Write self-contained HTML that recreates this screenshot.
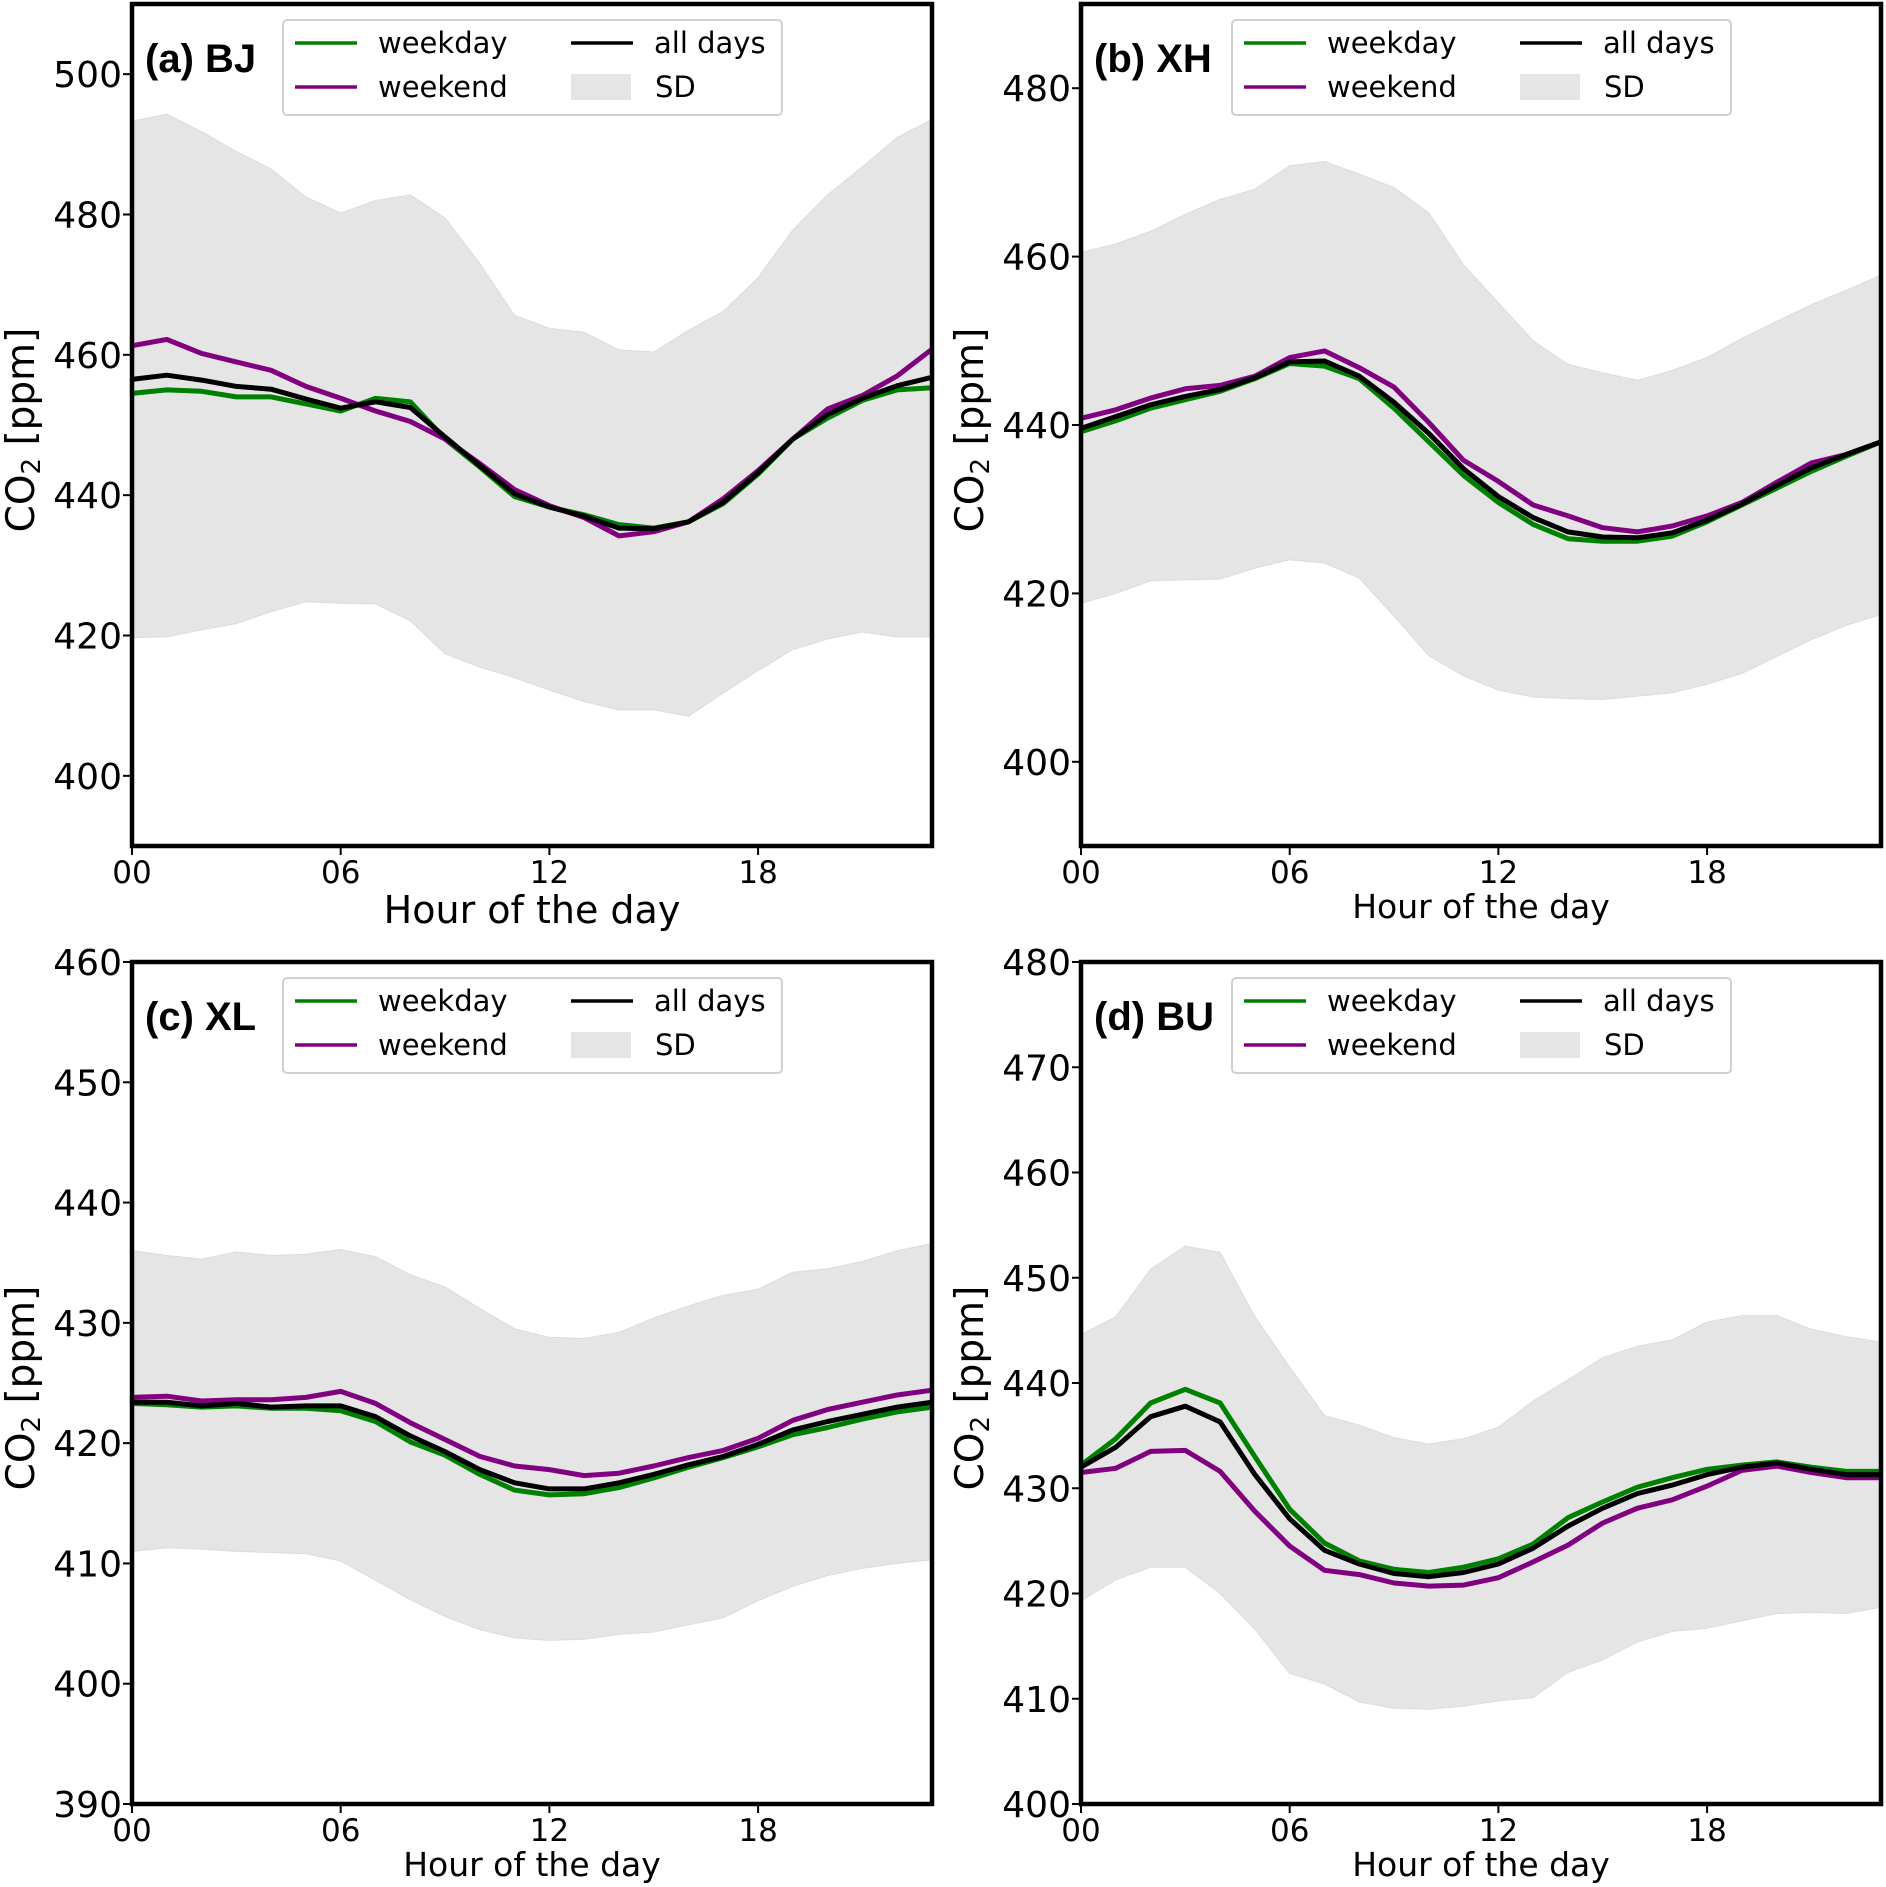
<!DOCTYPE html>
<html><head><meta charset="utf-8"><style>
html,body{margin:0;padding:0;background:#fff;}
svg{display:block;font-family:"DejaVu Sans","Liberation Sans",sans-serif;}
</style></head><body>
<svg id="fig" width="1886" height="1887" viewBox="0 0 1886 1887" xmlns="http://www.w3.org/2000/svg"></svg>
<script>
const hours = [0,1,2,3,4,5,6,7,8,9,10,11,12,13,14,15,16,17,18,19,20,21,22,23];
const xTickLabels = ["00","06","12","18"];
const xTickValues = [0,6,12,18];

const bjWeekday = [454.5,455,454.8,454,454,453,452,453.8,453.3,448,444,439.8,438.3,437.2,435.8,435.3,436.2,438.8,443,448,451,453.5,455,455.3];
const bjWeekend = [461.3,462.2,460.2,459,457.8,455.5,453.8,452,450.5,448,444.5,440.8,438.5,436.8,434.2,434.8,436.2,439.5,443.5,448,452.3,454.2,457,460.8];
const bjAll = [456.5,457.1,456.4,455.5,455.1,453.7,452.4,453.3,452.5,448.3,444.2,440.2,438.3,437,435.3,435.2,436.2,439,443.2,448,451.5,453.8,455.6,456.8];
const bjSdUpper = [493.3,494.3,491.8,489,486.5,482.5,480.2,482,482.8,479.5,473,465.6,463.8,463.2,460.7,460.4,463.5,466.2,471,477.8,482.8,486.8,491,493.5];
const bjSdLower = [419.7,419.8,420.8,421.7,423.4,424.8,424.6,424.5,422.1,417.4,415.5,414,412.2,410.6,409.4,409.4,408.5,411.8,415,418,419.5,420.5,419.8,419.8];
const bjYTicks = [400,420,440,460,480,500];

const xhWeekday = [439.2,440.5,442,443,444,445.5,447.3,447,445.5,442,438,434,430.8,428.2,426.5,426.2,426.2,426.8,428.5,430.5,432.5,434.5,436.3,438];
const xhWeekend = [440.8,441.8,443.2,444.3,444.7,445.8,448,448.8,446.8,444.5,440.3,435.8,433.3,430.5,429.2,427.8,427.3,428,429.2,430.8,433.2,435.5,436.5,438];
const xhAll = [439.6,441,442.4,443.4,444.2,445.6,447.5,447.6,445.8,442.7,439,434.8,431.5,429,427.3,426.7,426.6,427.2,428.7,430.6,432.8,434.9,436.5,438];
const xhSdUpper = [460.5,461.5,463,465,466.8,468,470.8,471.3,469.8,468.2,465.2,459,454.5,450,447.2,446.2,445.3,446.5,448,450.3,452.3,454.3,456,457.8];
const xhSdLower = [418.8,420,421.5,421.6,421.7,423,424,423.6,421.8,417.3,412.6,410.2,408.5,407.7,407.5,407.4,407.8,408.2,409.2,410.5,412.5,414.5,416.2,417.5];
const xhYTicks = [400,420,440,460,480];

const xlWeekday = [423.3,423.2,423,423.1,422.9,422.9,422.7,421.8,420.1,419,417.4,416.1,415.7,415.8,416.3,417.1,418,418.8,419.7,420.7,421.3,422,422.6,423];
const xlWeekend = [423.8,423.9,423.5,423.6,423.6,423.8,424.3,423.3,421.7,420.3,418.9,418.1,417.8,417.3,417.5,418.1,418.8,419.4,420.4,421.9,422.8,423.4,424,424.4];
const xlAll = [423.4,423.4,423.1,423.3,423,423.1,423.1,422.2,420.6,419.3,417.8,416.7,416.2,416.2,416.7,417.4,418.2,418.9,419.9,421.1,421.8,422.4,423,423.4];
const xlSdUpper = [436,435.6,435.3,435.9,435.6,435.7,436.1,435.5,434,433,431.2,429.5,428.8,428.7,429.2,430.4,431.4,432.3,432.8,434.2,434.5,435.1,436,436.6];
const xlSdLower = [411,411.3,411.2,411,410.9,410.8,410.2,408.6,407,405.6,404.5,403.8,403.6,403.7,404.1,404.3,404.9,405.5,406.9,408.1,409,409.6,410,410.3];
const xlYTicks = [390,400,410,420,430,440,450,460];

const buWeekday = [432.2,434.7,438.1,439.4,438.1,433,428,424.8,423.1,422.3,422,422.5,423.3,424.7,427.2,428.7,430.1,431,431.8,432.2,432.5,432,431.6,431.6];
const buWeekend = [431.5,431.9,433.5,433.6,431.6,427.8,424.5,422.2,421.8,421,420.7,420.8,421.5,423,424.6,426.7,428.1,428.9,430.2,431.7,432.1,431.5,431,431];
const buAll = [432,433.9,436.8,437.8,436.3,431.3,427.1,424.1,422.8,421.9,421.6,422,422.8,424.3,426.4,428.1,429.5,430.3,431.3,432,432.4,431.8,431.3,431.3];
const buSdUpper = [444.6,446.3,450.8,453,452.4,446.3,441.5,436.9,436,434.8,434.2,434.7,435.8,438.3,440.3,442.4,443.5,444.1,445.8,446.4,446.4,445.1,444.4,443.9];
const buSdLower = [419.3,421.3,422.5,422.5,420,416.6,412.4,411.4,409.7,409.1,409,409.3,409.8,410.1,412.5,413.7,415.4,416.4,416.7,417.4,418.1,418.2,418.1,418.7];
const buYTicks = [400,410,420,430,440,450,460,470,480];

const NS = "http://www.w3.org/2000/svg";
const svg = document.getElementById('fig');
function mk(tag, attrs, parent){
  const e = document.createElementNS(NS, tag);
  for (const k in attrs) e.setAttribute(k, attrs[k]);
  (parent||svg).appendChild(e);
  return e;
}

const panels = [
  {key:'bj', label:'(a) BJ', ox:0, oy:0, ymin:390, ymax:510, wd:bjWeekday, we:bjWeekend, all:bjAll, up:bjSdUpper, lo:bjSdLower, ticks:bjYTicks, xlabSize:38},
  {key:'xh', label:'(b) XH', ox:949, oy:0, ymin:390, ymax:490, wd:xhWeekday, we:xhWeekend, all:xhAll, up:xhSdUpper, lo:xhSdLower, ticks:xhYTicks, xlabSize:33},
  {key:'xl', label:'(c) XL', ox:0, oy:958, ymin:390, ymax:460, wd:xlWeekday, we:xlWeekend, all:xlAll, up:xlSdUpper, lo:xlSdLower, ticks:xlYTicks, xlabSize:33},
  {key:'bu', label:'(d) BU', ox:949, oy:958, ymin:400, ymax:480, wd:buWeekday, we:buWeekend, all:buAll, up:buSdUpper, lo:buSdLower, ticks:buYTicks, xlabSize:33}
];

panels.forEach(p=>{
  const L = 132 + p.ox, R = 932 + p.ox, T = 4 + p.oy, B = 846 + p.oy;
  const xs = h => L + (h - 0) / 23 * (R - L);
  const ys = v => B - (v - p.ymin) / (p.ymax - p.ymin) * (B - T);
  const g = mk('g', {});
  
  

  let d = '';
  hours.forEach((h,i)=>{ d += (i?'L':'M') + xs(h).toFixed(1) + ',' + ys(p.up[i]).toFixed(1); });
  for (let i = hours.length-1; i>=0; i--) d += 'L' + xs(hours[i]).toFixed(1) + ',' + ys(p.lo[i]).toFixed(1);
  const band = mk('path', {d: d+'Z', fill:'#e5e5e5', stroke:'#dcdcdc', 'stroke-width':1}, g);
  
  

  const series = [[p.wd,'#008000','weekday-line'],[p.we,'#800080','weekend-line'],[p.all,'#000000','all-days-line']];
  series.forEach(s=>{
    const pts = hours.map((h,i)=> xs(h).toFixed(1)+','+ys(s[0][i]).toFixed(1)).join(' ');
    const pl = mk('polyline', {points:pts, fill:'none', stroke:s[1], 'stroke-width':5, 'stroke-linejoin':'round'}, g);
    
    
  });

  const fr = mk('rect', {x:L, y:T, width:R-L, height:B-T, fill:'none', stroke:'#000', 'stroke-width':4.5}, g);
  
  

  p.ticks.forEach(v=>{
    const y = ys(v);
    mk('line', {x1:L-9, x2:L, y1:y, y2:y, stroke:'#000', 'stroke-width':2}, g);
    const t = mk('text', {x:L-10, y:y+13, 'text-anchor':'end', 'font-size':36, fill:'#000'}, g);
    t.textContent = v;
    
    
  });
  xTickValues.forEach((v,i)=>{
    const x = xs(v);
    mk('line', {x1:x, x2:x, y1:B, y2:B+9, stroke:'#000', 'stroke-width':2}, g);
    const t = mk('text', {x:x, y:B+37, 'text-anchor':'middle', 'font-size':31, fill:'#000'}, g);
    t.textContent = xTickLabels[i];
    
    
  });
  const xl = mk('text', {x:(L+R)/2, y:B + (p.xlabSize>35?77:72), 'text-anchor':'middle', 'font-size':p.xlabSize, fill:'#000'}, g);
  xl.textContent = 'Hour of the day';
  
  
  const cy = (T+B)/2 + 5, cx = p.ox + 34;
  const yl = mk('text', {x:cx, y:cy, transform:'rotate(-90 '+cx+' '+cy+')', 'text-anchor':'middle', 'font-size':39, fill:'#000'}, g);
  
  
  yl.appendChild(document.createTextNode('CO'));
  const sub = mk('tspan', {'font-size':26, dy:6}, yl); sub.textContent = '2';
  const rest = mk('tspan', {dy:-6}, yl); rest.textContent = ' [ppm]';

  const pl = mk('text', {x:L+13, y:T+68, 'font-size':40, 'font-weight':'bold', fill:'#000', 'font-family':'Liberation Sans, sans-serif'}, g);
  pl.textContent = p.label;
  
  

  const lx = 283 + p.ox, ly = 20 + p.oy;
  const lg = mk('g', {}, g);
  
  
  mk('rect', {x:lx, y:ly, width:499, height:95, rx:4, fill:'#fff', 'fill-opacity':0.85, stroke:'#d0d0d0', 'stroke-width':2}, lg);
  const items = [
    ['weekday', '#008000', lx+12, ly+23, 'line'],
    ['weekend', '#800080', lx+12, ly+67, 'line'],
    ['all days', '#000', lx+288, ly+23, 'line'],
    ['SD', '#e5e5e5', lx+288, ly+67, 'patch']
  ];
  items.forEach(it=>{
    const e = mk('g', {}, lg);
    
    
    if (it[4]==='line') mk('line', {x1:it[2], x2:it[2]+62, y1:it[3], y2:it[3], stroke:it[1], 'stroke-width':3.5}, e);
    else mk('rect', {x:it[2], y:it[3]-13, width:60, height:26, fill:it[1]}, e);
    const t = mk('text', {x:it[2] + (it[0]==='SD'?84:83), y:it[3]+10, 'font-size':29, fill:'#000'}, e);
    t.textContent = it[0];
  });
});
</script>
</body></html>
